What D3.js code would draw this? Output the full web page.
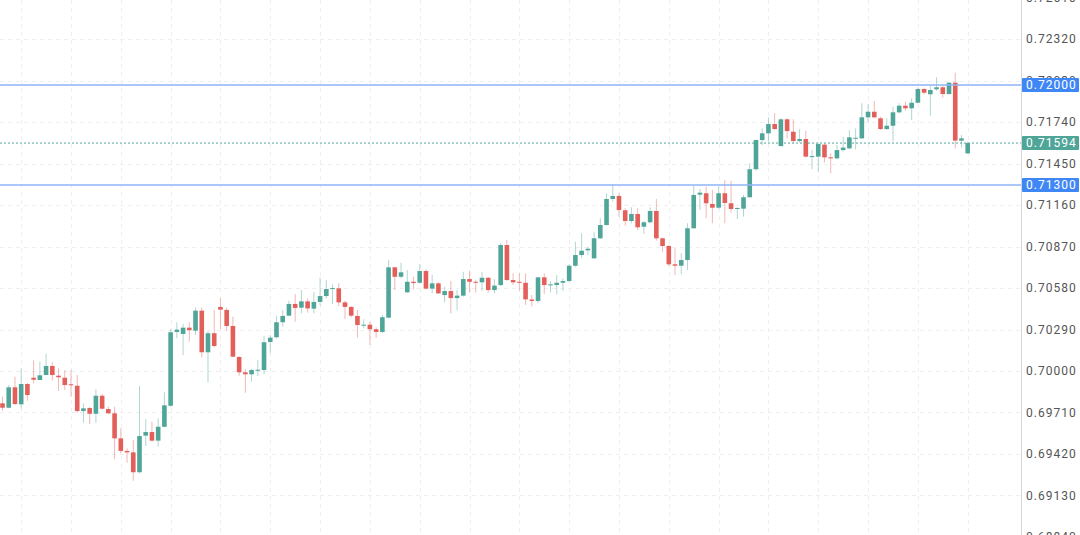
<!DOCTYPE html>
<html>
<head>
<meta charset="utf-8">
<script src="https://cdn.jsdelivr.net/npm/d3@7"></script>
<style>
body { margin:0; background:#fff; overflow:hidden; }
</style>
</head>
<body>
<div id="chart"></div>
<script>
// OHLC, one entry per candle (left to right)
var opens = [
 0.69774,0.69743,0.69886,0.69767,0.69909,0.69953,0.69937,0.69972,0.70035,0.69967,
 0.69953,0.69907,0.69897,0.69720,0.69741,0.69701,0.69827,0.69734,0.69704,0.69529,
 0.69441,0.69431,0.69292,0.69548,0.69573,0.69513,0.69610,0.69757,0.70273,0.70259,
 0.70303,0.70282,0.70422,0.70131,0.70264,0.70448,0.70427,0.70315,0.70098,0.69991,
 0.69977,0.70005,0.70007,0.70203,0.70236,0.70341,0.70387,0.70469,0.70443,0.70487,
 0.70436,0.70483,0.70524,0.70573,0.70578,0.70480,0.70448,0.70385,0.70317,0.70324,
 0.70292,0.70273,0.70373,0.70725,0.70659,0.70550,0.70624,0.70617,0.70699,0.70576,
 0.70613,0.70531,0.70559,0.70510,0.70527,0.70643,0.70624,0.70620,0.70652,0.70566,
 0.70601,0.70881,0.70636,0.70624,0.70617,0.70500,0.70490,0.70655,0.70599,0.70601,
 0.70617,0.70629,0.70736,0.70811,0.70844,0.70788,0.70928,0.71021,0.71203,0.71224,
 0.71124,0.71049,0.71098,0.71009,0.71040,0.71119,0.70928,0.70874,0.70746,0.70736,
 0.70776,0.70998,0.71233,0.71243,0.71168,0.71142,0.71243,0.71173,0.71133,0.71135,
 0.71215,0.71411,0.71615,0.71662,0.71727,0.71573,0.71760,0.71673,0.71608,0.71622,
 0.71499,0.71499,0.71583,0.71494,0.71487,0.71545,0.71557,0.71624,0.71627,0.71774,
 0.71813,0.71767,0.71692,0.71715,0.71809,0.71855,0.71837,0.71876,0.71972,0.71935,
 0.71970,0.71984,0.71937,0.72016,0.71611,0.71522
];
var highs = [
 0.69820,0.69902,0.69960,0.70016,0.69918,0.70075,0.70065,0.70121,0.70061,0.70019,
 0.70007,0.70007,0.69972,0.69774,0.69750,0.69872,0.69839,0.69750,0.69750,0.69599,
 0.69459,0.69517,0.69895,0.69662,0.69645,0.69669,0.69851,0.70294,0.70341,0.70329,
 0.70341,0.70445,0.70445,0.70280,0.70427,0.70508,0.70443,0.70380,0.70105,0.70014,
 0.70014,0.70077,0.70245,0.70252,0.70385,0.70427,0.70492,0.70538,0.70566,0.70508,
 0.70552,0.70652,0.70636,0.70606,0.70613,0.70492,0.70455,0.70427,0.70362,0.70345,
 0.70306,0.70392,0.70776,0.70728,0.70757,0.70706,0.70659,0.70746,0.70711,0.70671,
 0.70620,0.70590,0.70629,0.70566,0.70694,0.70701,0.70636,0.70694,0.70657,0.70641,
 0.70893,0.70916,0.70683,0.70683,0.70683,0.70531,0.70659,0.70683,0.70629,0.70671,
 0.70648,0.70746,0.70904,0.70963,0.70869,0.70970,0.71068,0.71243,0.71306,0.71243,
 0.71138,0.71145,0.71138,0.71049,0.71145,0.71203,0.70932,0.70881,0.70858,0.70823,
 0.71033,0.71294,0.71273,0.71289,0.71266,0.71289,0.71336,0.71331,0.71145,0.71231,
 0.71452,0.71620,0.71697,0.71774,0.71802,0.71767,0.71767,0.71760,0.71692,0.71680,
 0.71545,0.71597,0.71592,0.71522,0.71580,0.71638,0.71685,0.71697,0.71872,0.71865,
 0.71888,0.71778,0.71767,0.71848,0.71872,0.71883,0.71907,0.71984,0.71981,0.71995,
 0.72054,0.71995,0.72021,0.72086,0.71650,0.71604
];
var lows = [
 0.69722,0.69739,0.69762,0.69739,0.69792,0.69914,0.69937,0.69970,0.69932,0.69862,
 0.69867,0.69820,0.69708,0.69638,0.69629,0.69638,0.69732,0.69699,0.69383,0.69424,
 0.69359,0.69233,0.69285,0.69476,0.69506,0.69471,0.69605,0.69750,0.70229,0.70112,
 0.70205,0.70252,0.70096,0.69921,0.70166,0.70294,0.70282,0.70096,0.69967,0.69848,
 0.69925,0.69965,0.69977,0.70128,0.70229,0.70310,0.70385,0.70345,0.70403,0.70408,
 0.70403,0.70459,0.70508,0.70469,0.70455,0.70364,0.70376,0.70233,0.70299,0.70182,
 0.70231,0.70264,0.70369,0.70566,0.70648,0.70548,0.70571,0.70613,0.70571,0.70543,
 0.70538,0.70480,0.70403,0.70424,0.70520,0.70550,0.70548,0.70562,0.70548,0.70543,
 0.70594,0.70631,0.70601,0.70562,0.70462,0.70451,0.70473,0.70538,0.70550,0.70536,
 0.70559,0.70624,0.70729,0.70792,0.70811,0.70783,0.70923,0.71016,0.71184,0.71079,
 0.71016,0.71033,0.70986,0.70958,0.71033,0.70911,0.70834,0.70734,0.70671,0.70676,
 0.70706,0.70995,0.71126,0.71068,0.71033,0.71135,0.71033,0.71107,0.71063,0.71079,
 0.71212,0.71401,0.71580,0.71604,0.71685,0.71569,0.71627,0.71592,0.71597,0.71494,
 0.71411,0.71394,0.71459,0.71383,0.71480,0.71534,0.71550,0.71550,0.71622,0.71743,
 0.71767,0.71685,0.71685,0.71608,0.71802,0.71820,0.71755,0.71872,0.71935,0.71785,
 0.71960,0.71911,0.71932,0.71557,0.71564,0.71518
];
var closes = [
 0.69743,0.69886,0.69769,0.69909,0.69832,0.69939,0.69970,0.70035,0.69972,0.69956,
 0.69902,0.69900,0.69720,0.69739,0.69701,0.69827,0.69736,0.69704,0.69529,0.69441,
 0.69431,0.69292,0.69545,0.69573,0.69513,0.69610,0.69760,0.70271,0.70289,0.70303,
 0.70285,0.70422,0.70131,0.70264,0.70175,0.70429,0.70315,0.70100,0.69991,0.69977,
 0.70007,0.70009,0.70201,0.70233,0.70341,0.70385,0.70469,0.70441,0.70487,0.70438,
 0.70483,0.70524,0.70573,0.70580,0.70480,0.70448,0.70387,0.70322,0.70324,0.70292,
 0.70273,0.70376,0.70725,0.70659,0.70690,0.70624,0.70615,0.70699,0.70576,0.70613,
 0.70543,0.70559,0.70510,0.70527,0.70643,0.70624,0.70617,0.70652,0.70566,0.70597,
 0.70881,0.70636,0.70620,0.70617,0.70501,0.70490,0.70655,0.70601,0.70606,0.70617,
 0.70629,0.70736,0.70811,0.70841,0.70855,0.70928,0.71021,0.71203,0.71224,0.71126,
 0.71049,0.71098,0.71005,0.71040,0.71119,0.70928,0.70874,0.70746,0.70736,0.70776,
 0.70998,0.71231,0.71247,0.71173,0.71142,0.71243,0.71175,0.71133,0.71140,0.71215,
 0.71411,0.71615,0.71662,0.71727,0.71692,0.71760,0.71678,0.71608,0.71622,0.71499,
 0.71503,0.71587,0.71494,0.71487,0.71545,0.71562,0.71634,0.71631,0.71774,0.71813,
 0.71774,0.71692,0.71715,0.71809,0.71855,0.71837,0.71876,0.71972,0.71946,0.71965,
 0.71984,0.71937,0.72016,0.71611,0.71627,0.71594
];
// right-hand price ticks
var tickValues = [0.68840,0.69130,0.69420,0.69710,0.70000,0.70290,0.70580,0.70870,0.71160,0.71450,0.71740,0.72030,0.72320,0.72610];
// horizontal levels drawn by the user + last price
var levels = [0.72000, 0.71300];
var lastPrice = 0.71594;

var W = 1080, H = 535, plotRight = 1021;
var upCol = "#4fa598", downCol = "#e35f5a";

var svg = d3.select("#chart").append("svg")
	.attr("width", W)
	.attr("height", H)
	.style("font-family", "Roboto, 'Noto Sans', sans-serif");

var x = d3.scaleLinear().domain([0, opens.length - 1]).range([2.5, 967.7]);
var y = d3.scaleLinear().domain([0.69, 0.72]).range([514, 85]);

// grid
var grid = svg.append("g");
grid.selectAll("line.h").data(tickValues).enter()
	.append("line")
	.attr("x1", 0).attr("x2", plotRight)
	.attr("y1", function(d){ return Math.round(y(d)) + 0.5; })
	.attr("y2", function(d){ return Math.round(y(d)) + 0.5; })
	.attr("stroke", "#efefef")
	.attr("stroke-dasharray", "4,4");
var vIdx = d3.range(3, opens.length, 8);
grid.selectAll("line.v").data(vIdx).enter()
	.append("line")
	.attr("x1", function(d){ return Math.round(x(d)) + 0.5; })
	.attr("x2", function(d){ return Math.round(x(d)) + 0.5; })
	.attr("y1", 0).attr("y2", H)
	.attr("stroke", "#efefef")
	.attr("stroke-dasharray", "4,4");

// candles
var idx = d3.range(opens.length);
var bw = 4.6;
var c = svg.append("g").selectAll("g").data(idx).enter().append("g");
c.append("line")
	.attr("x1", function(i){ return x(i); })
	.attr("x2", function(i){ return x(i); })
	.attr("y1", function(i){ return y(highs[i]); })
	.attr("y2", function(i){ return y(lows[i]); })
	.attr("stroke", function(i){ return closes[i] >= opens[i] ? upCol : downCol; })
	.attr("stroke-opacity", 0.45)
	.attr("stroke-width", 1);
c.append("rect")
	.attr("x", function(i){ return x(i) - bw / 2; })
	.attr("width", bw)
	.attr("y", function(i){ return y(Math.max(opens[i], closes[i])); })
	.attr("height", function(i){ return Math.max(1, Math.abs(y(opens[i]) - y(closes[i]))); })
	.attr("fill", function(i){ return closes[i] >= opens[i] ? upCol : downCol; });

// level lines
svg.selectAll("line.lvl").data(levels).enter()
	.append("line")
	.attr("x1", 0).attr("x2", plotRight)
	.attr("y1", function(d){ return y(d); })
	.attr("y2", function(d){ return y(d); })
	.attr("stroke", "#8fb3f6")
	.attr("stroke-width", 1.5);

// last price line
svg.append("line")
	.attr("x1", 0).attr("x2", plotRight)
	.attr("y1", y(lastPrice)).attr("y2", y(lastPrice))
	.attr("stroke", upCol)
	.attr("stroke-width", 1)
	.attr("stroke-dasharray", "2,2");

// right axis
svg.append("line")
	.attr("x1", plotRight + 0.5).attr("x2", plotRight + 0.5)
	.attr("y1", 0).attr("y2", H)
	.attr("stroke", "#d6d6d6");
svg.append("g").selectAll("text").data(tickValues).enter()
	.append("text")
	.attr("x", 1026)
	.attr("y", function(d){ return y(d); })
	.attr("dy", "0.35em")
	.attr("font-size", 12)
	.attr("letter-spacing", 1)
	.attr("fill", "#555")
	.text(function(d){ return d3.format(".5f")(d); });

// price labels
var tags = levels.map(function(v){ return { v: v, col: "#3f87f5" }; });
tags.push({ v: lastPrice, col: upCol });
var tg = svg.append("g").selectAll("g").data(tags).enter().append("g");
tg.append("rect")
	.attr("x", plotRight + 1)
	.attr("y", function(d){ return y(d.v) - 7; })
	.attr("width", 57)
	.attr("height", 14)
	.attr("rx", 1)
	.attr("fill", function(d){ return d.col; });
tg.append("text")
	.attr("x", 1026)
	.attr("y", function(d){ return y(d.v); })
	.attr("dy", "0.36em")
	.attr("font-size", 12)
	.attr("letter-spacing", 1)
	.attr("fill", "#fff")
	.text(function(d){ return d3.format(".5f")(d.v); });
</script>
</body>
</html>
